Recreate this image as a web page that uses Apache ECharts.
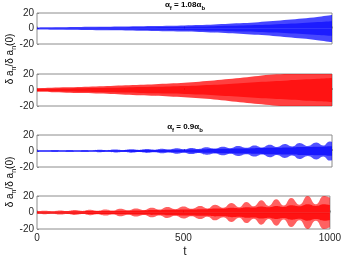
<!DOCTYPE html>
<html><head><meta charset="utf-8">
<script src="https://cdn.jsdelivr.net/npm/echarts@6/dist/echarts.min.js"></script>
<style>html,body{margin:0;padding:0;background:#fff}#c{width:344px;height:260px}</style>
</head><body><div id="c"></div>
<script>
// ---- data (envelope half-amplitudes) ----
const tA = [0,50,100,150,200,250,300,350,400,450,500,550,600,650,700,750,800,850,900,950,1000];
const p1Outer = [1.3,1.5,1.7,1.9,2.1,2.3,2.5,2.8,3.1,3.5,4.0,4.6,5.3,6.1,7.0,8.2,9.6,11.2,13.0,15.0,17.5];
const p1Core  = [0.7,0.8,0.9,1.0,1.1,1.2,1.3,1.5,1.7,1.9,2.2,2.5,2.9,3.4,3.9,4.5,5.3,6.2,7.2,8.3,9.5];
const p2Outer = [2.3,2.8,3.3,3.9,4.5,5.1,5.8,6.5,7.3,8.2,9.2,10.4,11.8,13.6,15.6,17.6,19.3,20,20,20,20];
const p2Core  = [1.3,1.5,1.8,2.1,2.4,2.8,3.2,3.6,4.0,4.5,5.0,5.7,6.5,7.6,8.7,10,11,12,13,14,15];
const t3 = [0,10,35,60,85,111,136,162,187,213,238,264,292,321,346,372,397,423,448,474,498,523,548,574,602,631,656,681,710,738,763,789,814,840,865,890,918,947,970,992,1000];
const p3Outer = [0.9,1.0,0.8,1.1,0.8,1.2,0.85,1.3,0.9,1.5,1.0,1.8,1.2,2.1,1.4,2.4,1.6,2.8,1.8,3.3,2.1,3.8,2.5,4.6,3.0,5.4,3.5,6.2,4.0,7.0,4.5,7.9,5.0,8.7,5.6,10,6.2,10.5,6.8,12,11.5];
const p3Core  = [0.6,0.6,0.6,0.6,0.6,0.65,0.65,0.7,0.7,0.8,0.8,0.9,0.95,1.1,1.1,1.2,1.3,1.4,1.5,1.7,1.7,1.9,2.0,2.3,2.4,2.7,2.8,3.1,3.2,3.5,3.6,4.0,4.0,4.4,4.5,5.0,5.0,5.3,5.4,6.0,6.0];
const t4 = [0,27,52,78,103,129,155,180,206,233,259,285,311,338,365,392,418,445,472,500,528,557,582,608,636,664,690,715,740,766,791,817,842,868,896,924,952,980,1000];
const p4Outer = [1.5,2,1.5,2.5,1.7,2.9,1.9,3.3,2.1,3.7,2.4,4.5,2.7,4.9,3.1,5.8,3.5,6.6,4.0,7.2,4.4,7.8,5.0,9.5,5.8,11.5,6.5,12.8,7.5,14.8,8.0,16,8.5,17.7,9.5,20,10,20,18];
const p4Core  = [1.2,1.2,1.2,1.3,1.4,1.5,1.5,1.7,1.7,1.9,1.9,2.2,2.2,2.5,2.5,2.9,2.8,3.3,3.2,3.6,3.5,3.9,4.0,4.7,4.6,5.7,5.2,6.4,6,7.4,6.4,8,6.8,8.8,7.6,10,8,10,9];
const yTicks = [-20, 0, 20];
const xTicks = [0, 500, 1000];

const BLUE = '#0000ff', RED = '#ff0000';
const grids = [
  {left:37, width:295, top:13, height:31},
  {left:37, width:295, top:74, height:32},
  {left:37, width:295, top:135, height:32},
  {left:37, width:295, top:196, height:33}
].map(g => Object.assign(g, {show:true, borderColor:'#8c8c8c', borderWidth:1, backgroundColor:'transparent'}));

const xAxes = grids.map((g, i) => ({
  type:'value', gridIndex:i, min:xTicks[0], max:xTicks[2], interval:xTicks[1]-xTicks[0],
  axisLine:{show: i===3, lineStyle:{color:'#bdbdbd', width:1.5}},
  axisTick:{show:true, inside:true, length:2, lineStyle:{color:'#8c8c8c'}},
  axisLabel:{show: i===3, fontSize:10, color:'#262626', fontFamily:'Liberation Sans', margin:4,
             showMinLabel:true, showMaxLabel:true, formatter: v => String(v)},
  splitLine:{show:false}
}));
const yAxes = grids.map((g, i) => ({
  type:'value', gridIndex:i, min:yTicks[0], max:yTicks[2], interval:yTicks[1]-yTicks[0],
  axisLine:{show:false},
  axisTick:{show:true, inside:true, length:2, lineStyle:{color:'#8c8c8c'}},
  axisLabel:{fontSize:10, color:'#262626', fontFamily:'Liberation Sans', margin:3, formatter: v => String(v)},
  splitLine:{show:false}
}));

function band(t, amp, idx, color, op, smooth, z) {
  const mk = (sign) => ({
    type:'line', xAxisIndex:idx, yAxisIndex:idx, z:z,
    data: t.map((x, k) => [x, sign * amp[k]]),
    showSymbol:false, smooth:smooth, silent:true, animation:false,
    lineStyle:{width:0, color:color}, itemStyle:{color:color},
    areaStyle:{color:color, opacity:op, origin:0}
  });
  return [mk(1), mk(-1)];
}

const series = [].concat(
  band(tA, p1Outer, 0, BLUE, 0.72, 0.3, 2), band(tA, p1Core, 0, BLUE, 0.6, 0.3, 3),
  band(tA, p2Outer, 1, RED, 0.75, 0.3, 2),  band(tA, p2Core, 1, RED, 0.7, 0.3, 3),
  band(t3, p3Outer, 2, BLUE, 0.68, 0.5, 2), band(t3, p3Core, 2, BLUE, 0.7, 0.5, 3),
  band(t4, p4Outer, 3, RED, 0.62, 0.5, 2),  band(t4, p4Core, 3, RED, 0.8, 0.5, 3)
);

const richT = {
  a:{fontSize:8, fontWeight:'bold', fontFamily:'Liberation Sans', color:'#000', lineHeight:12, verticalAlign:'middle'},
  s:{fontSize:6, fontWeight:'bold', fontFamily:'Liberation Sans', color:'#000', lineHeight:12, verticalAlign:'bottom'}
};
const richY = {
  a:{fontSize:10, fontFamily:'Liberation Sans', color:'#262626', lineHeight:16, verticalAlign:'middle'},
  s:{fontSize:7, fontFamily:'Liberation Sans', color:'#262626', lineHeight:16, verticalAlign:'bottom'}
};
const ylab = '{a|δ a}{s|n}{a|/δ a}{s|n}{a|(0)}';

const option = {
  animation:false,
  grid: grids, xAxis: xAxes, yAxis: yAxes, series: series,
  graphic: [
    {type:'text', x:185, y:5, z:10, style:{text:'{a|α}{s|f}{a| = 1.08α}{s|b}', rich:richT, align:'center', verticalAlign:'middle'}},
    {type:'text', x:185, y:127, z:10, style:{text:'{a|α}{s|f}{a| = 0.9α}{s|b}', rich:richT, align:'center', verticalAlign:'middle'}},
    {type:'text', x:10, y:59, rotation:Math.PI/2, z:10, style:{text:ylab, rich:richY, align:'center', verticalAlign:'middle'}},
    {type:'text', x:10, y:182, rotation:Math.PI/2, z:10, style:{text:ylab, rich:richY, align:'center', verticalAlign:'middle'}},
    {type:'text', x:185, y:252, z:10, style:{text:'t', fontSize:12, fontFamily:'Liberation Sans', fill:'#262626', align:'center', verticalAlign:'middle'}}
  ]
};
echarts.init(document.getElementById('c'), null, {renderer:'canvas'}).setOption(option);
</script></body></html>
